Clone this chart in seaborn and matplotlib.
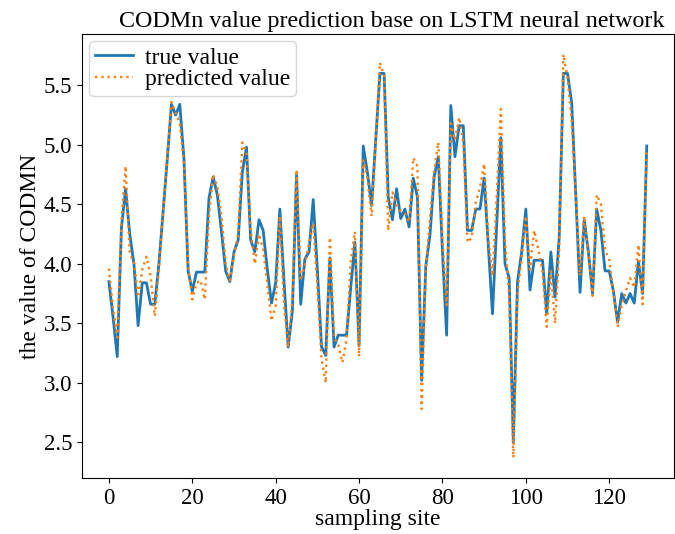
import numpy as np
import pandas as pd
import matplotlib
matplotlib.use("Agg")
import matplotlib.pyplot as plt
import seaborn as sns

# Values
true_value = [3.85, 3.55, 3.22, 4.30, 4.63, 4.25, 4.00, 3.48, 3.84, 3.84,
              3.66, 3.66, 4.00, 4.44, 4.88, 5.34, 5.25, 5.34, 4.88, 3.94,
              3.77, 3.93, 3.93, 3.93, 4.55, 4.73, 4.58, 4.27, 3.94, 3.85,
              4.10, 4.20, 4.77, 4.98, 4.20, 4.10, 4.37, 4.28, 3.95, 3.67,
              3.84, 4.46, 3.85, 3.30, 3.60, 4.75, 3.66, 4.04, 4.10, 4.54,
              3.95, 3.30, 3.23, 4.05, 3.30, 3.40, 3.40, 3.40, 3.80, 4.18,
              3.31, 4.99, 4.77, 4.49, 5.05, 5.60, 5.60, 4.56, 4.37, 4.63,
              4.38, 4.46, 4.31, 4.72, 4.56, 3.02, 3.98, 4.24, 4.73, 4.90,
              4.10, 3.40, 5.33, 4.90, 5.16, 5.16, 4.28, 4.28, 4.46, 4.46,
              4.72, 4.15, 3.58, 4.33, 5.06, 4.00, 3.88, 2.50, 3.85, 4.10,
              4.46, 3.78, 4.03, 4.03, 4.03, 3.58, 4.10, 3.72, 4.22, 5.60,
              5.60, 5.35, 4.55, 3.76, 4.37, 4.10, 3.75, 4.46, 4.28, 3.94,
              3.94, 3.77, 3.51, 3.75, 3.67, 3.75, 3.67, 4.02, 3.75, 4.99]

predicted_value = [3.96, 3.62, 3.38, 4.35, 4.82, 4.08, 4.02, 3.72, 3.95, 4.06,
                   3.90, 3.56, 3.96, 4.42, 4.90, 5.36, 5.27, 5.18, 4.84, 3.98,
                   3.70, 3.84, 3.86, 3.70, 4.40, 4.75, 4.65, 4.40, 4.00, 3.86,
                   4.07, 4.25, 5.02, 4.93, 4.28, 4.00, 4.25, 4.12, 3.82, 3.52,
                   3.65, 4.40, 3.65, 3.30, 3.70, 4.79, 3.86, 3.99, 4.17, 4.34,
                   3.80, 3.20, 3.00, 4.22, 3.38, 3.32, 3.17, 3.37, 4.02, 4.27,
                   3.22, 4.87, 4.72, 4.40, 5.02, 5.69, 5.58, 4.28, 4.60, 4.50,
                   4.44, 4.42, 4.35, 4.89, 4.82, 2.78, 3.96, 4.38, 4.78, 5.02,
                   4.20, 3.65, 5.18, 5.04, 5.23, 5.02, 4.18, 4.22, 4.52, 4.64,
                   4.84, 4.20, 3.90, 4.57, 5.30, 4.19, 3.74, 2.37, 3.76, 4.05,
                   4.40, 3.95, 4.28, 4.12, 3.94, 3.47, 3.94, 3.50, 4.12, 5.76,
                   5.56, 5.20, 4.56, 3.90, 4.40, 4.08, 3.73, 4.58, 4.50, 4.12,
                   4.03, 3.76, 3.47, 3.65, 3.77, 3.88, 3.80, 4.16, 3.66, 4.97]

sites = np.arange(len(true_value))

df = pd.DataFrame({"site": sites, "true": true_value, "pred": predicted_value})

plt.rcParams["font.family"] = ["Liberation Serif", "DejaVu Serif"]

fig, ax = plt.subplots(figsize=(6.75, 5.34), dpi=100)
sns.lineplot(data=df, x="site", y="true", ax=ax, color="#1f77b4",
             linewidth=2.0, label="true value")
sns.lineplot(data=df, x="site", y="pred", ax=ax, color="#ff7f0e",
             linewidth=1.7, linestyle=":", label="predicted value")

ax.set_title("CODMn value prediction base on LSTM neural network",
             fontsize=17.3, pad=5, x=0.523)
ax.set_xlabel("sampling site", fontsize=17, labelpad=0)
ax.set_ylabel("the value of CODMN", fontsize=17, labelpad=2)
ax.tick_params(labelsize=16.5)
ax.set_xticks([0, 20, 40, 60, 80, 100, 120])
ax.legend(loc="upper left", fontsize=17, handlelength=1.6, handletextpad=0.5,
          borderaxespad=0.3, labelspacing=0.0, borderpad=0.25)

fig.subplots_adjust(left=0.1215, right=0.998, top=0.936, bottom=0.105)
fig.savefig("out.png", dpi=100)
